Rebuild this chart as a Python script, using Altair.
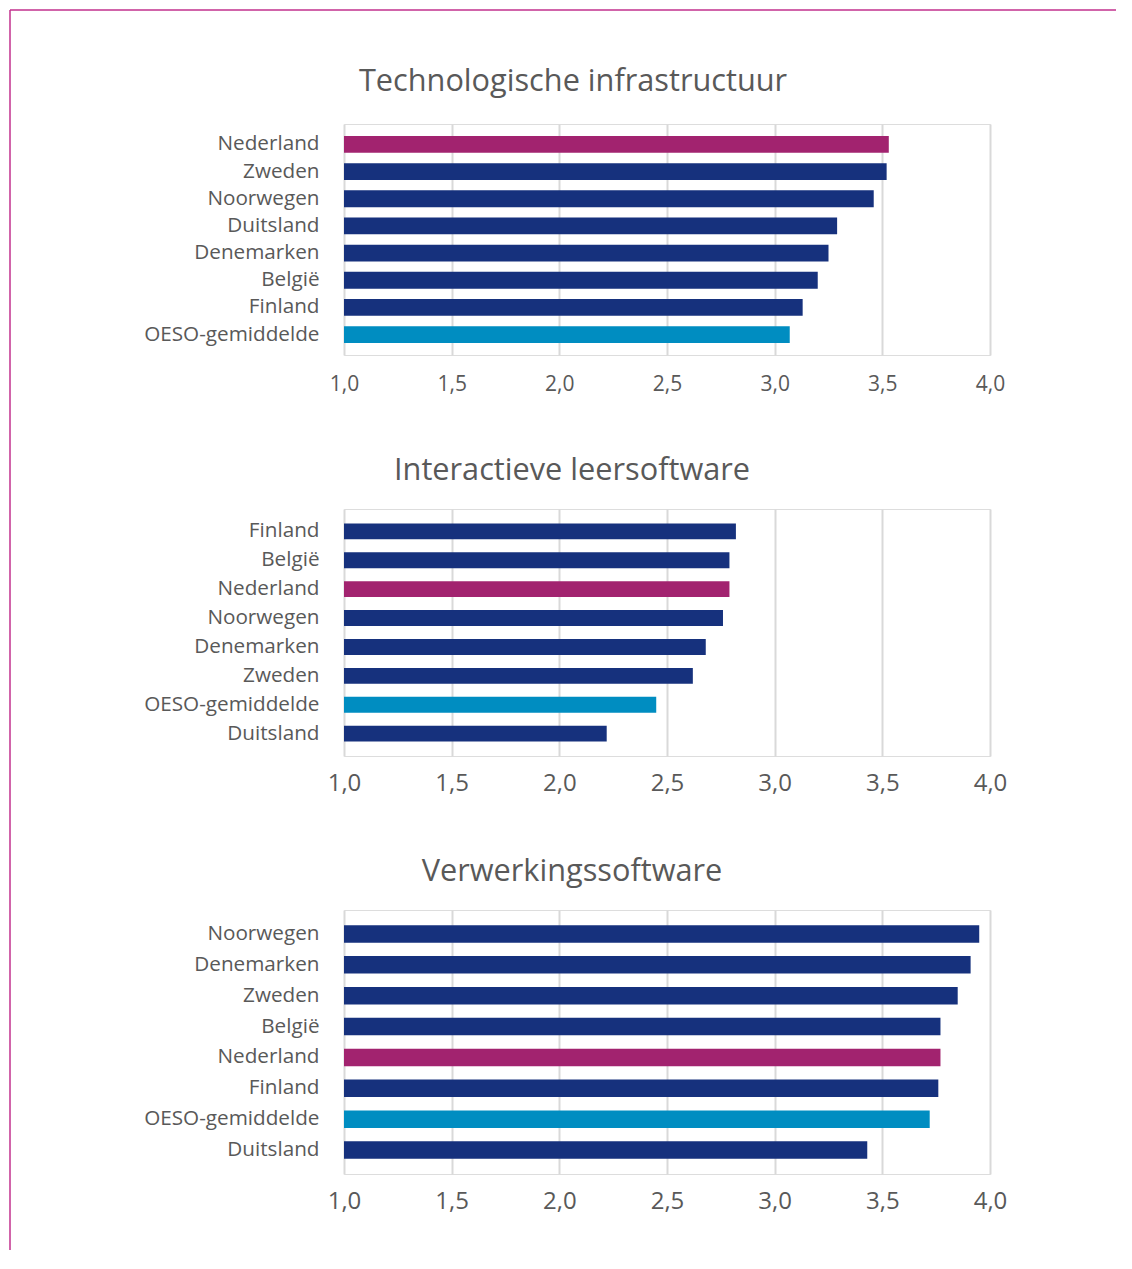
import altair as alt
import pandas as pd

FONT = "Open Sans"
TEXT = "#595959"
GRID = "#D9D9D9"
BORDER = "#C2318E"

titels = ["Technologische infrastructuur", "Interactieve leersoftware", "Verwerkingssoftware"]

landen1 = ["Nederland", "Zweden", "Noorwegen", "Duitsland", "Denemarken", "België", "Finland", "OESO-gemiddelde"]
waarden1 = [3.53, 3.52, 3.46, 3.29, 3.25, 3.20, 3.13, 3.07]

landen2 = ["Finland", "België", "Nederland", "Noorwegen", "Denemarken", "Zweden", "OESO-gemiddelde", "Duitsland"]
waarden2 = [2.82, 2.79, 2.79, 2.76, 2.68, 2.62, 2.45, 2.22]

landen3 = ["Noorwegen", "Denemarken", "Zweden", "België", "Nederland", "Finland", "OESO-gemiddelde", "Duitsland"]
waarden3 = [3.95, 3.91, 3.85, 3.77, 3.77, 3.76, 3.72, 3.43]

ticks = [1.0, 1.5, 2.0, 2.5, 3.0, 3.5, 4.0]

kleur_domein = ["Nederland", "OESO-gemiddelde", "Zweden", "Noorwegen", "Duitsland", "Denemarken", "België", "Finland"]
kleur_range = ["#A2236F", "#008DC1", "#16317D", "#16317D", "#16317D", "#16317D", "#16317D", "#16317D"]

W = 646


def panel(titel, landen, waarden, height, pin, pout, tick_size, lpad):
    df = pd.DataFrame({"land": landen, "waarde": waarden})
    ch = alt.Chart(df).mark_bar().encode(
        y=alt.Y("land:N", sort=landen, title=None,
                scale=alt.Scale(paddingInner=pin, paddingOuter=pout),
                axis=alt.Axis(labelFontSize=20.7, labelColor=TEXT, labelFont=FONT,
                              labelPadding=25, labelLimit=400, ticks=False, domain=False, grid=False)),
        x=alt.X("waarde:Q", title=None,
                scale=alt.Scale(domain=[1, 4], zero=False, nice=False),
                axis=alt.Axis(values=ticks, grid=True, gridColor=GRID, gridWidth=2,
                              domain=False, ticks=False, labelFontSize=tick_size,
                              labelColor=TEXT, labelFont=FONT, labelPadding=lpad,
                              labelFlush=False,
                              labelExpr="replace(format(datum.value, '.1f'), '.', ',')")),
        x2=alt.datum(1.0),
        color=alt.Color("land:N", scale=alt.Scale(domain=kleur_domein, range=kleur_range), legend=None),
    ).properties(width=W, height=height)
    if titel is not None:
        ch = ch.properties(
            title=alt.TitleParams(titel, font=FONT, fontSize=30.7, fontWeight="normal", color=TEXT,
                                  anchor="middle", frame="group", dx=-95, offset=22))
    return ch


deco = alt.Chart(alt.Data(values=[{}]))
titel1 = deco.mark_text(font=FONT, fontSize=30.7, color=TEXT, align="center", baseline="middle").encode(
    x=alt.value(229), y=alt.value(-42), text=alt.value(titels[0]))
top_line = deco.mark_rule(color=BORDER, strokeWidth=1.5).encode(
    x=alt.value(-334), x2=alt.value(772), y=alt.value(-114))
left_line = deco.mark_rule(color=BORDER, strokeWidth=1.5).encode(
    x=alt.value(-334), y=alt.value(-114), y2=alt.value(1126))

p1 = alt.layer(panel(None, landen1, waarden1, 231, 0.38, 0.44, 21, 18),
               titel1, top_line, left_line)
p2 = panel(titels[1], landen2, waarden2, 247, 0.45, 0.5, 24, 15)
p3 = panel(titels[2], landen3, waarden3, 264, 0.43, 0.49, 24, 15)

chart = alt.vconcat(p1, p2, p3, spacing=154, bounds="flush").properties(
    padding=0
).configure_view(stroke="transparent", strokeWidth=0).configure(font=FONT)

chart.save("out.html", embed_options={"renderer": "svg", "actions": False})
